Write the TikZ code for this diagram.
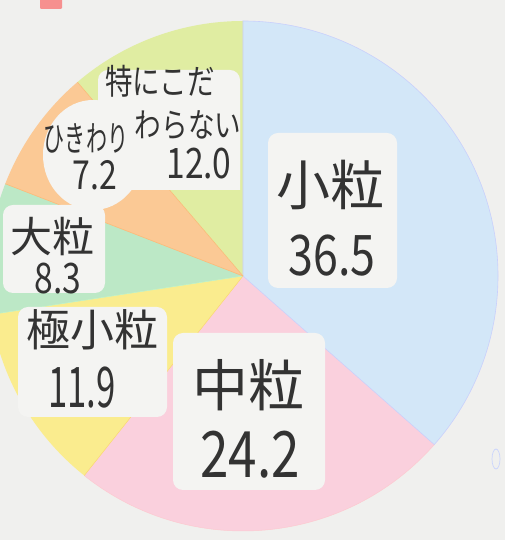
\documentclass[tikz,border=0pt]{standalone}
\usepackage{fontspec}
\usepackage{graphicx}
\newfontfamily\jp{Noto Sans CJK JP}
\definecolor{paper}{HTML}{F0F0EE}
\definecolor{lbl}{HTML}{F4F4F2}
\definecolor{cblue}{HTML}{D3E7F8}
\definecolor{cpink}{HTML}{FAD0DD}
\definecolor{cyellow}{HTML}{FAEC8E}
\definecolor{cgreen}{HTML}{BCE8C6}
\definecolor{corange}{HTML}{FBC995}
\definecolor{clime}{HTML}{E0EDA2}
\definecolor{ink}{HTML}{333333}
\tikzset{
  lab/.style={inner sep=0pt, text=ink, font=\jp},
  box/.style={fill=lbl, rounded corners=10pt},
}
\newcommand\nr[1]{\scalebox{0.8}[1]{#1}}
\begin{document}
\begin{tikzpicture}[x=1pt,y=1pt]
\useasboundingbox (0,0) rectangle (505,540);
\fill[paper] (0,0) rectangle (505,540);
% stray marks
\fill[red!40!paper, rounded corners=1pt] (40,531) rectangle (62,541);
\draw[cblue!80!blue!60, line width=0.7pt] (496,81) ellipse (4 and 10);
\coordinate (C) at (243,264);
% slices
\def\R{255}
\fill[cblue] (C) -- ++(90:\R) arc[start angle=90, end angle=-41.4, radius=\R] -- cycle;
\fill[cpink] (C) -- ++(-41.4:\R) arc[start angle=-41.4, end angle=-128.5, radius=\R] -- cycle;
\fill[cyellow] (C) -- ++(-128.5:\R) arc[start angle=-128.5, end angle=-171.3, radius=\R] -- cycle;
\fill[cgreen] (C) -- ++(-171.3:\R) arc[start angle=-171.3, end angle=-201.2, radius=\R] -- cycle;
\fill[corange] (C) -- ++(-201.2:\R) arc[start angle=-201.2, end angle=-229.5, radius=\R] -- cycle;
\fill[clime] (C) -- ++(-229.5:\R) arc[start angle=-229.5, end angle=-270, radius=\R] -- cycle;
% slice edges
\draw[cblue!70!blue!50, line width=0.6pt] (C) -- ++(90:\R) arc[start angle=90, end angle=-41.4, radius=\R] -- cycle;
\draw[cpink!80!red!60, line width=0.5pt] (C) ++(-41.4:\R) arc[start angle=-41.4, end angle=-128.5, radius=\R];
\draw[cyellow!80!orange, line width=0.5pt] (C) -- ++(-128.5:\R);
\draw[cgreen!80!green!60, line width=0.5pt] (C) -- ++(-171.3:\R);
\draw[corange!80!orange, line width=0.6pt] (C) -- ++(-201.2:\R);
\draw[corange!80!orange, line width=0.6pt] (C) -- ++(-229.5:\R);
% label backgrounds
\fill[box] (268,252) rectangle (397,407);
\fill[box] (173,50) rectangle (325,207);
\fill[box] (18,123) rectangle (167,233);
\fill[box] (3,247) rectangle (105,335);
\fill[lbl] (93,385) ellipse (50 and 55);
\fill[box] (98,350) rectangle (240,470);
\fill[lbl] (130,350) -- (240,350) -- (240,420) -- (150,465) -- cycle;
% labels
\node[lab, font=\jp\fontsize{54}{54}\selectfont] (koName) at (330,355) {小粒};
\node[lab, font=\jp\fontsize{56}{56}\selectfont] (koVal) at (332,284) {\nr{36.5}};
\node[lab, font=\jp\fontsize{56}{56}\selectfont] (chuName) at (248,155) {中粒};
\node[lab, font=\jp\fontsize{64}{64}\selectfont] (chuVal) at (250,85) {\nr{24.2}};
\node[lab, font=\jp\fontsize{44}{44}\selectfont] (gokuName) at (92,210) {極小粒};
\node[lab, font=\jp\fontsize{56}{56}\selectfont] (gokuVal) at (82,152) {\scalebox{0.62}[1]{11.9}};
\node[lab, font=\jp\fontsize{42}{42}\selectfont] (daiName) at (52,303) {大粒};
\node[lab, font=\jp\fontsize{42}{42}\selectfont] (daiVal) at (58,261) {\nr{8.3}};
\node[lab, font=\jp\fontsize{27}{27}\selectfont] (hikiName) at (86,402) {\scalebox{0.78}[1.3]{ひきわり}};
\node[lab, font=\jp\fontsize{40}{40}\selectfont] (hikiVal) at (95,365) {\nr{7.2}};
\node[lab, font=\jp\fontsize{29}{29}\selectfont] (tokuName1) at (160,459) {\scalebox{0.95}[1.2]{特にこだ}};
\node[lab, font=\jp\fontsize{28}{28}\selectfont] (tokuName2) at (188,415) {\scalebox{0.95}[1.2]{わらない}};
\node[lab, font=\jp\fontsize{42}{42}\selectfont] (tokuVal) at (199,376) {\nr{12.0}};
\end{tikzpicture}
\end{document}
